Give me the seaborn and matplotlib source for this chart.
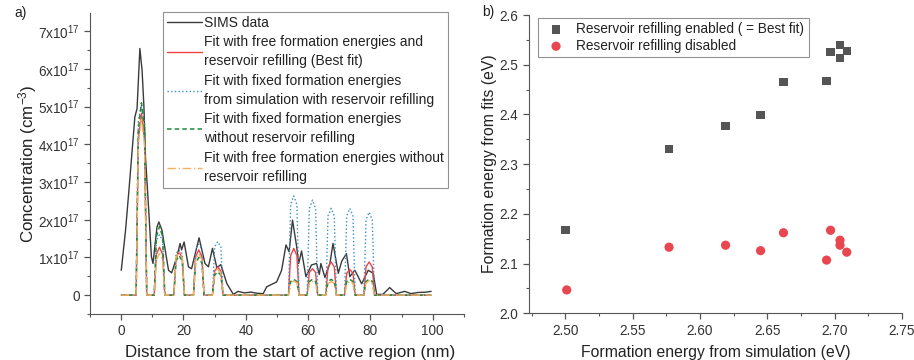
import matplotlib
matplotlib.use("Agg")
import matplotlib.pyplot as plt
import seaborn as sns
import numpy as np
import pandas as pd
from matplotlib.ticker import MultipleLocator

# ---------------- data: panel a ----------------
sims_x = [0.0, 0.1, 1.4, 2.5, 3.7, 4.4, 5.1, 6.0, 6.7, 7.3, 7.8, 8.9, 9.7, 10.2, 11.5, 12.1,
          13.1, 13.6, 15.2, 16.2, 17.9, 18.9, 19.4, 20.2, 21.6, 22.6, 25.0, 26.9, 28.0,
          29.3, 30.7, 32.0, 33.9, 36.0, 37.5, 39.5, 41.7, 43.5, 45.6, 46.7, 49.9, 51.5,
          52.9, 53.9, 55.0, 56.3, 57.0, 57.9, 59.3, 61.1, 62.7, 63.6, 64.1, 65.4, 67.0,
          68.0, 69.7, 70.8, 72.3, 73.4, 75.0, 76.0, 77.2, 79.3, 80.9, 82.0, 84.0, 86.2,
          88.3, 91.0, 93.0, 95.2, 98.0, 99.5]
sims_y = [0.66, 0.71, 1.72, 2.79, 4.02, 4.73, 4.95, 6.54, 5.97, 5.00, 3.67, 2.17, 1.02, 0.84,
          1.81, 1.94, 1.72, 1.46, 0.66, 0.59, 1.02, 1.37, 1.20, 1.41, 0.75, 0.70, 1.52, 0.84,
          0.75, 1.24, 0.73, 0.81, 0.31, 0.02, 0.10, 0.06, 0.08, 0.05, 0.04, 0.22, 0.35, 0.66,
          1.33, 1.15, 1.99, 1.30, 0.84, 1.17, 0.49, 0.80, 0.84, 0.55, 0.84, 0.47, 0.84,
          1.37, 0.58, 0.90, 1.10, 0.49, 0.66, 0.50, 0.30, 0.66, 0.58, 0.02, 0.02, 0.20,
          0.04, 0.10, 0.04, 0.07, 0.08, 0.10]

fit_x = [0.0,
         4.8, 5.5, 6.5, 7.5, 8.2,
         10.6, 11.3, 12.3, 13.3, 14.0,
         16.9, 17.6, 18.6, 19.6, 20.3,
         23.2, 23.9, 24.9, 25.9, 26.6,
         29.3, 30.0, 31.0, 32.0, 32.7,
         53.7, 54.4, 55.4, 56.4, 57.1,
         59.7, 60.4, 61.4, 62.4, 63.1,
         65.7, 66.4, 67.4, 68.4, 69.1,
         71.7, 72.4, 73.4, 74.4, 75.1,
         77.9, 78.6, 79.6, 80.6, 81.3,
         99.5]
fit_best = [0,
            0, 4.10, 4.82, 4.10, 0,
            0, 1.08, 1.27, 1.08, 0,
            0, 0.98, 1.15, 0.98, 0,
            0, 1.02, 1.20, 1.02, 0,
            0, 0.64, 0.75, 0.64, 0,
            0, 1.05, 1.24, 1.05, 0,
            0, 0.60, 0.70, 0.60, 0,
            0, 0.75, 0.88, 0.75, 0,
            0, 0.58, 0.68, 0.58, 0,
            0, 0.75, 0.88, 0.75, 0,
            0]
fit_sim_refill = [0,
                  0, 4.60, 5.05, 4.60, 0,
                  0, 1.45, 1.60, 1.45, 0,
                  0, 1.10, 1.20, 1.10, 0,
                  0, 1.22, 1.35, 1.22, 0,
                  0, 1.28, 1.42, 1.28, 0,
                  0, 2.40, 2.63, 2.40, 0,
                  0, 2.30, 2.52, 2.30, 0,
                  0, 2.10, 2.30, 2.10, 0,
                  0, 2.10, 2.30, 2.10, 0,
                  0, 2.00, 2.20, 2.00, 0,
                  0]
fit_sim_norefill = [0,
                    0, 4.40, 5.10, 4.40, 0,
                    0, 1.55, 1.82, 1.55, 0,
                    0, 0.90, 1.05, 0.90, 0,
                    0, 0.85, 1.00, 0.85, 0,
                    0, 0.53, 0.62, 0.53, 0,
                    0, 0.36, 0.42, 0.36, 0,
                    0, 0.36, 0.42, 0.36, 0,
                    0, 0.36, 0.42, 0.36, 0,
                    0, 0.36, 0.42, 0.36, 0,
                    0, 0.36, 0.42, 0.36, 0,
                    0]
fit_free_norefill = [0,
                     0, 4.00, 4.70, 4.00, 0,
                     0, 0.94, 1.10, 0.94, 0,
                     0, 0.98, 1.15, 0.98, 0,
                     0, 0.94, 1.10, 0.94, 0,
                     0, 0.58, 0.68, 0.58, 0,
                     0, 0.32, 0.38, 0.32, 0,
                     0, 0.31, 0.36, 0.31, 0,
                     0, 0.31, 0.36, 0.31, 0,
                     0, 0.31, 0.36, 0.31, 0,
                     0, 0.32, 0.38, 0.32, 0,
                     0]

conc_ticks = [0, 1, 2, 3, 4, 5, 6, 7]
conc_labels = ["0", "1x10$^{17}$", "2x10$^{17}$", "3x10$^{17}$", "4x10$^{17}$",
               "5x10$^{17}$", "6x10$^{17}$", "7x10$^{17}$"]

# ---------------- data: panel b ----------------
sim_energy_en = [2.500, 2.577, 2.619, 2.645, 2.662, 2.694, 2.697, 2.704, 2.704, 2.709]
fit_energy_en = [2.167, 2.331, 2.377, 2.399, 2.465, 2.467, 2.526, 2.540, 2.514, 2.528]
sim_energy_dis = [2.501, 2.577, 2.619, 2.645, 2.662, 2.697, 2.694, 2.704, 2.704, 2.709]
fit_energy_dis = [2.047, 2.133, 2.137, 2.126, 2.162, 2.167, 2.107, 2.147, 2.137, 2.123]

# ---------------- style ----------------
sns.set_style("ticks")
plt.rcParams["font.family"] = ["Liberation Sans", "DejaVu Sans"]
plt.rcParams["mathtext.fontset"] = "custom"
plt.rcParams["mathtext.rm"] = "Liberation Sans"
plt.rcParams["mathtext.it"] = "Liberation Sans:italic"
axis_col = "#555555"
plt.rcParams["axes.edgecolor"] = axis_col
plt.rcParams["xtick.color"] = axis_col
plt.rcParams["ytick.color"] = axis_col
plt.rcParams["xtick.labelcolor"] = "#333333"
plt.rcParams["ytick.labelcolor"] = "#333333"

fig = plt.figure(figsize=(9.14, 3.6), dpi=100)
ax1 = fig.add_axes([0.0985, 0.1278, 0.409, 0.836])
ax2 = fig.add_axes([0.5788, 0.1297, 0.408, 0.8286])

# ---- panel a ----
sns.lineplot(x=sims_x, y=sims_y, ax=ax1, color="#3a3a3a", lw=1.0, sort=False,
             estimator=None, label="SIMS data")
sns.lineplot(x=fit_x, y=fit_best, ax=ax1, color="#ee4444", lw=1.0, sort=False,
             estimator=None,
             label="Fit with free formation energies and\nreservoir refilling (Best fit)")
sns.lineplot(x=fit_x, y=fit_sim_refill, ax=ax1, color="#3a8fc8", lw=1.0, ls=":",
             sort=False, estimator=None,
             label="Fit with fixed formation energies\nfrom simulation with reservoir refilling")
sns.lineplot(x=fit_x, y=fit_sim_norefill, ax=ax1, color="#1f8a3c", lw=1.1,
             ls=(0, (3, 2)), sort=False, estimator=None,
             label="Fit with fixed formation energies\nwithout reservoir refilling")
sns.lineplot(x=fit_x, y=fit_free_norefill, ax=ax1, color="#f2b060", lw=1.0,
             ls=(0, (6, 2, 1, 2)), sort=False, estimator=None,
             label="Fit with free formation energies without\nreservoir refilling")

ax1.set_xlim(-10, 110)
ax1.set_ylim(-0.5, 7.48)
ax1.set_xticks([0, 20, 40, 60, 80, 100])
ax1.xaxis.set_minor_locator(MultipleLocator(10))
ax1.set_yticks(conc_ticks)
ax1.set_yticklabels(conc_labels)
ax1.yaxis.set_minor_locator(MultipleLocator(0.5))
ax1.tick_params(which="major", length=4, width=0.9, labelsize=9.8, direction="out")
ax1.tick_params(which="minor", length=2.5, width=0.8, direction="out")
ax1.set_xlabel("Distance from the start of active region (nm)", fontsize=12.2,
               color="#222222")
ax1.xaxis.set_label_coords(0.536, -0.104)
ax1.set_ylabel("Concentration (cm$^{-3}$)", fontsize=12.2, color="#222222", labelpad=-1)
for s in ["top", "right"]:
    ax1.spines[s].set_visible(False)
leg1 = ax1.legend(loc="upper left", bbox_to_anchor=(0.195, 1.005), fontsize=10.0,
                  frameon=True, fancybox=False, edgecolor="#777777",
                  handlelength=2.5, handletextpad=0.15, borderpad=0.3,
                  labelspacing=0.4, borderaxespad=0)
leg1.get_frame().set_linewidth(0.8)
for t in leg1.get_texts():
    t.set_color("#222222")
    t.set_linespacing(1.45)
fig.text(0.016, 0.952, "a)", fontsize=10, color="#222222")

# ---- panel b ----
sns.scatterplot(x=sim_energy_en, y=fit_energy_en, ax=ax2, marker="s", s=36,
                color="#555555", edgecolor="none",
                label="Reservoir refilling enabled ( = Best fit)")
sns.scatterplot(x=sim_energy_dis, y=fit_energy_dis, ax=ax2, marker="o", s=44,
                color="#e8474f", edgecolor="none", label="Reservoir refilling disabled")
ax2.set_xlim(2.473, 2.75)
ax2.set_ylim(2.0, 2.6)
ax2.set_xticks([2.50, 2.55, 2.60, 2.65, 2.70, 2.75])
ax2.set_xticklabels(["2.50", "2.55", "2.60", "2.65", "2.70", "2.75"])
ax2.xaxis.set_minor_locator(MultipleLocator(0.025))
ax2.set_yticks([2.0, 2.1, 2.2, 2.3, 2.4, 2.5, 2.6])
ax2.set_yticklabels(["2.0", "2.1", "2.2", "2.3", "2.4", "2.5", "2.6"])
ax2.yaxis.set_minor_locator(MultipleLocator(0.05))
ax2.tick_params(which="major", length=4, width=0.9, labelsize=9.8, direction="out")
ax2.tick_params(which="minor", length=2.5, width=0.8, direction="out")
ax2.set_xlabel("Formation energy from simulation (eV)", fontsize=11.3, color="#222222",
               labelpad=5)
ax2.set_ylabel("Formation energy from fits (eV)", fontsize=11.3, color="#222222",
               labelpad=2)
for s in ["top", "right"]:
    ax2.spines[s].set_visible(False)
leg2 = ax2.legend(loc="upper left", bbox_to_anchor=(0.025, 0.99), fontsize=9.8,
                  frameon=True, fancybox=False, edgecolor="#777777",
                  handletextpad=0.5, borderpad=0.3, labelspacing=0.2, borderaxespad=0)
leg2.get_frame().set_linewidth(0.8)
for t in leg2.get_texts():
    t.set_color("#222222")
fig.text(0.528, 0.955, "b)", fontsize=10, color="#222222")

fig.savefig("out.png", dpi=100)
